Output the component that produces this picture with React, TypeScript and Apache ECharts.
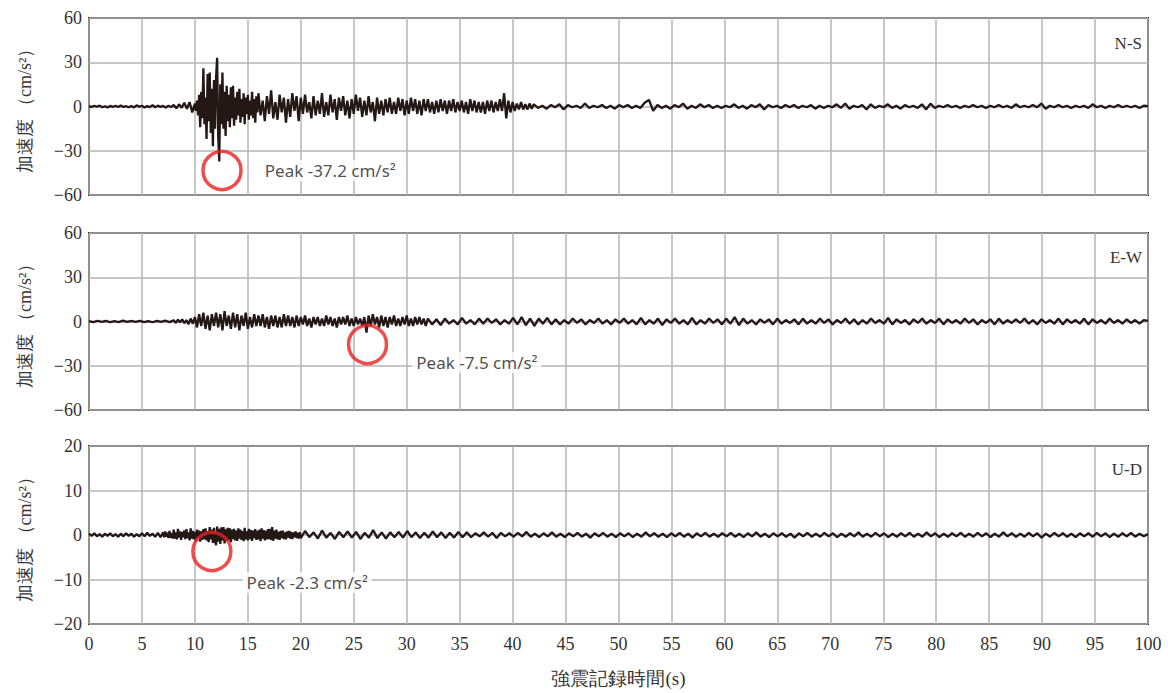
import React, { useEffect, useRef } from "react";
import * as echarts from "echarts";

// ---------- data (acceleration, cm/s^2) ----------
// N-S component
const nsQuiet = [
  0.3, -0.4, 0.5, -0.2, 0.6, -0.5, 0.2, -0.6, 0.4, -0.3,
  0.5, -0.4, 0.7, -0.3, 0.2, -0.5, 0.4, -0.6, 0.8, -0.2,
  0.5, -0.7, 0.3, -0.4, 0.9, -0.5, 0.6, -0.3, 0.4, -0.8,
  0.5, -0.4, 1.0, -1.2, 1.5, -0.8, 2.5, -1.5, 3.0, -4.0,
]; // 0 - 10 s
const nsStrong = [
  2, -3, 4, -6, 8, -14, 10, -8, 26, -12,
  6, -22, 22, -10, 23, -18, 12, -27, 18, -15,
  20, 33, -20, -37.2, 15, -12, 23, -15, 10, -20,
  14, -10, 8, -14, 13, -8, 14, -13, 6, -9,
  10, -6, 12, -11, 5, -7, 9, -12, 6, -5,
  8, -9, 4, -6, 10, -8, 5, -11, 7, -4,
]; // 10 - 16 s
const nsCoda = [
  9, -6, 4, -10, 7, -5, 11, -8, 3, -9,
  8, -4, 6, -11, 5, -7, 9, -3, 7, -10,
  6, -5, 8, -4, 3, -8, 7, -6, 4, -5,
  9, -7, 3, -6, 8, -4, 5, -9, 6, -3,
  7, -6, 4, -8, 5, -5, 8, -3, 6, -7,
  4, -6, 7, -4, 3, -10, 6, -5, 4, -6,
  5, -4, 6, -5, 3, -5, 6, -3, 5, -6,
  4, -5, 6, -3, 5, -5, 4, -6, 5, -3,
  5, -4, 3, -5, 4, -4, 5, -3, 4, -5,
  4, -3, 5, -4, 3, -3, 4, -4, 3, -5,
  5, -3, 4, -4, 3, -4, 3, -5, 4, -3,
  4, -4, 3, -3, 5, -3, 9, -8, 4, -4,
  3, -3, 2, -2, 3, -2, 1.5, -2, 2, -1.5,
]; // 16 - 42 s
const nsTail = [
  1.5, -1, 0.5, -1.5, 1, -0.5, 1.5, -2, 1, -0.5,
  0.5, -1, 2, -1, 0.5, -0.5, 1, -1, 0.5, -1.5,
  1, -0.5, 1, -1, 0.5, -1, 2.5, 4.5, -3, 1,
  -1, 0.5, -1.5, 1, -0.5, 2, -1.5, 0.5, -1, 1.5,
  -0.5, 1, -1, 0.5, -1, 0.5, -0.5, 1.5, -1, 0.5,
  -1.5, 1, -0.5, 1.5, -2, 1, -0.5, 0.5, -1, 1,
  -0.5, 1, -1, 0.5, -0.5, 1, -1.5, 0.5, -1, 0.5,
  -0.5, 1.5, -1, 2, -1.5, 0.5, -0.5, 1, -2, 1.5,
  -1, 0.5, -0.5, 1.5, -1, 0.5, -1.5, 1, -0.5, 0.5,
  -1, 1.5, -2, 2, -1, 0.5, -0.5, 1, -0.5, 0.5,
  -1, 0.5, -0.5, 1, -0.5, 0.5, -1, 0.5, -0.5, 1,
  -0.5, 0.5, -1, 1.5, -0.5, 0.5, -0.5, 1, -0.5, 2,
  -1.5, 0.5, -0.5, 1, -0.5, 0.5, -1, 0.5, -0.5, 0.5,
  -1, 1.5, -0.5, 0.5, -1, 0.5, -0.5, 1, -0.5, 0.5,
  -0.5, 0.5, -1, 0.5, 0.3,
]; // 42 - 100 s

// E-W component
const ewQuiet = [
  0.3, -0.4, 0.5, -0.3, 0.4, -0.5, 0.2, -0.4, 0.6, -0.3,
  0.4, -0.2, 0.5, -0.4, 0.3, -0.5, 0.4, -0.3, 0.6, -0.4,
]; // 0 - 8 s
const ewStrong = [
  0.8, -1, 1.2, -0.6, 1.5, -1.2, 1, -1.8, 2, -1.5,
  3, -4, 5, -3, 6, -5, 4, -6, 5, -3,
  6, -4, 5, -6, 7, -3, 4, -5, 6, -4,
  5, -6, 4, -3, 6, -5, 3, -4, 5, -3,
  4, -3, 5, -4, 3, -5, 4, -3, 4, -4,
  3, -4, 5, -3, 4, -3, 3, -4, 4, -3,
  3, -2, 4, -3, 2, -4, 3, -2, 3, -3,
  2, -3, 4, -2, 3, -3, 2, -4, 3, -2,
  3, -2, 4, -3, 2, -3, 3, -2, 2, -3,
  3, -7.5, 4, -3, 5, -2, 3, -4, 4, -3,
  3, -4, 3, -2, 4, -3, 2, -3, 3, -2,
  4, -3, 2, -3, 3, -2, 3, -2, 2, -3,
]; // 8 - 32 s
const ewTail = [
  2, -2, 1.5, -2.5, 2, -1.5, 1, -2, 2.5, -1.5,
  1, -2, 2, -1.5, 2, -1, 1.5, -2, 1, -1.5,
  2.5, -2, 3, -2.5, 2, -3, 2, -1.5, 2.5, -2,
  1.5, -2, 1, -1.5, 2, -1, 1.5, -2, 1, -1,
  2, -1.5, 1, -2, 1.5, -1, 2, -1.5, 1, -2,
  2.5, -2, 1, -1.5, 2, -2.5, 1.5, -1, 2, -1.5,
  1, -2, 2.5, -2, 1, -1.5, 2, -1, 1.5, -2,
  2, -1.5, 3, -2.5, 2, -1.5, 1, -2, 1.5, -1,
  1.5, -2, 2, -1.5, 1, -1, 1.5, -2, 2, -1.5,
  1, -1.5, 2, -1, 1.5, -2, 1, -1, 2, -1.5,
  1.5, -2, 1, -1.5, 2, -1, 1, -1.5, 2.5, -2,
  1.5, -1, 1, -2, 1.5, -1, 2, -1.5, 1, -1,
  2, -2, 1.5, -1, 1, -1.5, 2, -1, 1.5, -2,
  1, -1, 1.5, -2, 2, -1.5, 1, -1, 1.5, -1,
  2, -1.5, 1, -2, 1.5, -1, 1, -1.5, 2, -2,
  1.5, -1, 1, -1.5, 2, -2, 1.5, -1, 1, -1.5,
  2, -1, 1, -1.5, 1.5, -1, 1, -1.5, 1, 0.5,
]; // 32 - 100 s

// U-D component
const udQuiet = [
  0.3, -0.2, 0.4, -0.3, 0.2, -0.4, 0.3, -0.2, 0.4, -0.3,
  0.2, -0.4, 0.3, -0.3, 0.4, -0.2, 0.3, -0.4, 0.2, -0.3,
  0.4, -0.3, 0.5, -0.2, 0.3, -0.4, 0.5, -0.5,
]; // 0 - 7 s
const udStrong = [
  0.6, -0.5, 0.8, -0.4, 0.5, -0.7, 0.9, -0.6, 0.4, -0.8,
  1.2, -0.8, 0.6, -1.0, 1.4, -0.6, 0.8, -1.1, 0.7, -0.5,
  1.0, -0.9, 1.3, -0.7, 0.6, -1.2, 1.5, -0.8, 0.9, -1.0,
  0.7, -1.3, 1.2, -0.6, 1.0, -1.5, 0.8, -1.1, 1.3, -0.9,
  1.5, -1.2, 0.9, -1.6, 1.8, -1.0, 1.2, -1.8, 1.6, -1.4,
  -2.3, 1.9, -1.5, 1.4, -2.0, 1.7, -1.2, 1.8, -1.9, 1.3,
  -1.4, 1.6, -1.1, 1.5, -1.6, 1.2, -0.9, 1.4, -1.2, 1.0,
  -1.3, 1.5, -0.8, 1.2, -1.1, 0.9, -1.4, 1.6, -1.0, 0.8,
  -1.2, 1.4, -0.9, 1.1, -1.3, 1.0, -0.7, 1.3, -1.1, 0.9,
  -1.0, 1.2, -1.4, 1.5, -0.8, 1.1, -1.2, 0.9, -1.0, 1.3,
  -0.9, 1.4, -1.1, 1.8, -1.3, 1.0, -0.8, 1.2, -1.0, 0.7,
  -1.1, 0.9, -0.7, 1.0, -0.9, 0.6, -1.0, 0.8, -0.6, 0.9,
  -0.8, 0.7, -0.9, 0.6, -0.5, 0.8, -0.7, 0.5, -0.8, 0.6,
]; // 7 - 20 s
const udTail = [
  -0.7, 0.9, -0.5, 0.6, -0.8, 1.0, -0.6, 0.5, -0.9, 0.7,
  -0.5, 0.8, -0.6, 0.7, -0.9, 0.5, -0.6, 1.1, -0.7, 0.6,
  -0.8, 0.6, -0.5, 0.7, -0.6, 0.9, -0.5, 0.6, -0.7, 0.5,
  -0.6, 0.8, -0.5, 0.6, -0.7, 0.5, -0.6, 0.7, -0.5, 0.6,
  -0.5, 0.4, -0.3, 0.6, -0.4, 0.5, -0.7, 0.5, -0.3, 0.4,
  -0.4, 0.5, -0.3, 0.7, -0.4, 0.3, -0.5, 0.4, -0.3, 0.6,
  -0.4, 0.3, -0.5, 0.4, -0.3, 0.5, -0.4, 0.3, -0.6, 0.4,
  -0.3, 0.5, -0.4, 0.3, -0.5, 0.4, -0.3, 0.4, -0.5, 0.3,
  -0.4, 0.6, -0.3, 0.4, -0.4, 0.3, -0.5, 0.4, -0.3, 0.5,
  -0.4, 0.3, -0.6, 0.4, -0.3, 0.5, -0.4, 0.3, -0.4, 0.4,
  -0.3, 0.5, -0.4, 0.3, -0.5, 0.4, -0.3, 0.6, -0.4, 0.3,
  -0.5, 0.4, -0.3, 0.4, -0.4, 0.3, -0.6, 0.4, -0.3, 0.5,
  -0.4, 0.3, -0.4, 0.5, -0.3, 0.4, -0.5, 0.3, -0.4, 0.4,
  -0.3, 0.6, -0.4, 0.3, -0.4, 0.5, -0.3, 0.4, -0.5, 0.3,
  -0.4, 0.4, -0.3, 0.5, -0.4, 0.3, -0.4, 0.6, -0.3, 0.4,
  -0.5, 0.3, -0.4, 0.4, -0.3, 0.5, -0.4, 0.3, -0.4, 0.5,
  -0.3, 0.4, -0.5, 0.3, -0.4, 0.6, -0.3, 0.4, -0.4, 0.3,
  -0.4, 0.5, -0.3, 0.4, -0.6, 0.3, -0.4, 0.5, -0.3, 0.4,
  -0.4, 0.3, -0.5, 0.4, -0.3, 0.4, -0.4, 0.5, -0.3, 0.4,
  -0.5, 0.3, -0.4, 0.4, -0.3, 0.5, -0.4, 0.3, -0.3, 0.2,
]; // 20 - 100 s

// panels
const panelNames = ["N-S", "E-W", "U-D"];
const yMins = [-60, -60, -20];
const yMaxs = [60, 60, 20];
const yIntervals = [30, 30, 10];
// peak annotation (circle centre in data units) and label text
const peakCircleT = [12.56, 26.3, 11.6];
const peakCircleA = [-43.4, -15.6, -3.7];
const peakLabels = ["Peak -37.2 cm/s²", "Peak -7.5 cm/s²", "Peak -2.3 cm/s²"];

// sample segments: values spread evenly over [start, end)
function seg(start: number, end: number, vals: number[], inclusive = false) {
  const n = inclusive ? vals.length - 1 : vals.length;
  const step = (end - start) / n;
  return vals.map((v, i) => [+(start + i * step).toFixed(3), v]);
}

const nsData = [
  ...seg(0, 10, nsQuiet),
  ...seg(10, 16, nsStrong),
  ...seg(16, 42, nsCoda),
  ...seg(42, 100, nsTail, true),
];
const ewData = [
  ...seg(0, 8, ewQuiet),
  ...seg(8, 32, ewStrong),
  ...seg(32, 100, ewTail, true),
];
const udData = [
  ...seg(0, 7, udQuiet),
  ...seg(7, 20, udStrong),
  ...seg(20, 100, udTail, true),
];
const allData = [nsData, ewData, udData];

const SERIF = "Liberation Serif";
const SANS = "Noto Sans";

export default function App() {
  const ref = useRef<HTMLDivElement>(null);
  useEffect(() => {
    document.body.style.margin = "0";
    const chart = echarts.init(ref.current!, undefined, { renderer: "svg" });
    const tops = [18, 233, 446];
    const heights = [177, 177, 178];
    const grids = tops.map((t, i) => ({
      left: 89,
      right: 20,
      top: t,
      height: heights[i],
      show: true,
      borderColor: "#222",
      borderWidth: 2,
      backgroundColor: "transparent",
      containLabel: false,
    }));
    const xAxes = tops.map((_, i) => ({
      type: "value",
      gridIndex: i,
      min: 0,
      max: 100,
      interval: 5,
      axisLine: { show: false },
      axisTick: { show: false },
      splitLine: { show: true, lineStyle: { color: "#b4b4b4", width: 1.5 } },
      axisLabel: {
        show: i === 2,
        fontFamily: SERIF,
        fontSize: 18,
        color: "#333",
        margin: 11,
      },
      name: i === 2 ? "強震記録時間(s)" : "",
      nameLocation: "middle",
      nameGap: 45,
      nameTextStyle: { fontFamily: SERIF, fontSize: 19, color: "#333" },
    }));
    const yAxes = tops.map((_, i) => ({
      type: "value",
      gridIndex: i,
      min: yMins[i],
      max: yMaxs[i],
      interval: yIntervals[i],
      axisLine: { show: false },
      axisTick: { show: false },
      splitLine: { show: true, lineStyle: { color: "#b4b4b4", width: 1.5 } },
      axisLabel: {
        fontFamily: SERIF,
        fontSize: 18,
        color: "#333",
        margin: 7,
        formatter: (v: number) => String(v).replace("-", "−"),
      },
      name: "加速度 （cm/s²）",
      nameLocation: "middle",
      nameGap: 55,
      nameTextStyle: { fontFamily: SERIF, fontSize: 18, color: "#333" },
    }));
    const lineSeries = allData.map((d, i) => ({
      type: "line",
      xAxisIndex: i,
      yAxisIndex: i,
      data: d,
      showSymbol: false,
      symbol: "none",
      lineStyle: { color: "#231815", width: 2.3 },
      z: 3,
    }));
    const labelOffsets = [
      [0, 0],
      [6, 18],
      [-8, 31],
    ];
    const peakSeries = panelNames.map((_, i) => ({
      type: "scatter",
      xAxisIndex: i,
      yAxisIndex: i,
      data: [[peakCircleT[i], peakCircleA[i]]],
      symbol: "circle",
      symbolSize: 38,
      itemStyle: { color: "rgba(0,0,0,0)", borderColor: "#e8211f", borderWidth: 3.5 },
      label: {
        show: true,
        position: "right",
        distance: 18,
        offset: labelOffsets[i],
        formatter: peakLabels[i],
        fontFamily: SANS,
        fontSize: 17,
        color: "#222",
        backgroundColor: "#fff",
        padding: [2, 4],
      },
      z: 5,
      silent: true,
    }));
    const nameY = [45, 259, 471];
    chart.setOption({
      animation: false,
      grid: grids,
      xAxis: xAxes,
      yAxis: yAxes,
      series: [...lineSeries, ...peakSeries],
      graphic: panelNames.map((n, i) => ({
        type: "text",
        right: 26,
        top: nameY[i] - 10,
        style: { text: n, fontFamily: SERIF, fontSize: 17, fill: "#333" },
        z: 10,
      })),
    });
    return () => chart.dispose();
  }, []);
  return <div ref={ref} style={{ width: 1168, height: 693 }} />;
}
